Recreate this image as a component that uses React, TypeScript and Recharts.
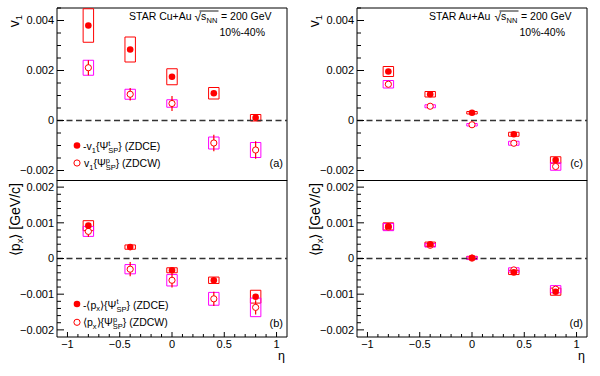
import React from 'react';
import { ScatterChart, Scatter, XAxis, YAxis, ReferenceLine, ReferenceArea, ErrorBar } from 'recharts';

// pseudorapidity bins
const ETA = [-0.8, -0.4, 0, 0.4, 0.8];

// Cu+Au v1 : -v1{Psi^t} (ZDCE) and v1{Psi^p} (ZDCW)
const V1_CUAU_E = [0.0038, 0.00284, 0.00175, 0.00109, 0.00011];
const V1_CUAU_E_STAT = [0.0001, 0.0001, 0.0001, 0.0001, 0.0001];
const V1_CUAU_E_SYS = [0.00067, 0.0005, 0.00032, 0.00023, 0.00013];
const V1_CUAU_W = [0.00211, 0.00105, 0.00068, -0.0009, -0.00118];
const V1_CUAU_W_STAT = [0.0003, 0.00025, 0.0003, 0.00033, 0.00035];
const V1_CUAU_W_SYS = [0.0003, 0.0002, 0.00015, 0.00024, 0.0003];

// Au+Au v1
const V1_AUAU_E = [0.00196, 0.00105, 0.00031, -0.00055, -0.00158];
const V1_AUAU_E_STAT = [0.00005, 0.00005, 0.00005, 0.00005, 0.00005];
const V1_AUAU_E_SYS = [0.0002, 0.00011, 0.00005, 0.00008, 0.00013];
const V1_AUAU_W = [0.00145, 0.00057, -0.00017, -0.00091, -0.00184];
const V1_AUAU_W_STAT = [0.00005, 0.00005, 0.00005, 0.00005, 0.00006];
const V1_AUAU_W_SYS = [0.00015, 0.00006, 0.00005, 0.00008, 0.00015];

// Cu+Au <px>
const PX_CUAU_E = [0.00092, 0.00032, -0.00033, -0.00061, -0.00107];
const PX_CUAU_E_STAT = [0.00005, 0.00004, 0.00004, 0.00005, 0.00006];
const PX_CUAU_E_SYS = [0.00014, 0.00006, 0.00007, 0.00009, 0.00018];
const PX_CUAU_W = [0.00076, -0.0003, -0.00061, -0.00113, -0.00137];
const PX_CUAU_W_STAT = [0.00015, 0.0002, 0.0002, 0.0002, 0.0002];
const PX_CUAU_W_SYS = [0.00014, 0.00013, 0.00016, 0.00018, 0.00026];

// Au+Au <px>
const PX_AUAU_E = [0.0009, 0.0004, 0.00002, -0.00039, -0.00093];
const PX_AUAU_E_STAT = [0.00003, 0.00003, 0.00003, 0.00003, 0.00004];
const PX_AUAU_E_SYS = [0.0001, 0.00006, 0.00004, 0.00006, 0.0001];
const PX_AUAU_W = [0.00088, 0.00037, 0.00001, -0.00032, -0.00086];
const PX_AUAU_W_STAT = [0.00003, 0.00003, 0.00003, 0.00003, 0.00004];
const PX_AUAU_W_SYS = [0.0001, 0.00005, 0.00004, 0.00006, 0.0001];

// axes
const X_DOMAIN = [-1.1, 1.1];
const X_TICKS = [-1, -0.9, -0.8, -0.7, -0.6, -0.5, -0.4, -0.3, -0.2, -0.1, 0, 0.1, 0.2, 0.3, 0.4, 0.5, 0.6, 0.7, 0.8, 0.9, 1];
const X_MAJOR = [-1, -0.5, 0, 0.5, 1];
const X_LABELS = ['\u22121', '\u22120.5', '0', '0.5', '1'];

const V1_DOMAIN = [-0.0024, 0.0045];
const V1_TICKS = [-0.002, -0.0015, -0.001, -0.0005, 0, 0.0005, 0.001, 0.0015, 0.002, 0.0025, 0.003, 0.0035, 0.004, 0.0045];
const V1_MAJOR = [-0.002, 0, 0.002, 0.004];
const V1_LABELS = ['\u22120.002', '0', '0.002', '0.004'];

const PX_DOMAIN = [-0.0022, 0.0022];
const PX_TICKS = [-0.002, -0.0018, -0.0016, -0.0014, -0.0012, -0.001, -0.0008, -0.0006, -0.0004, -0.0002, 0, 0.0002, 0.0004, 0.0006, 0.0008, 0.001, 0.0012, 0.0014, 0.0016, 0.0018, 0.002];
const PX_MAJOR = [-0.002, -0.001, 0, 0.001, 0.002];
const PX_LABELS = ['\u22120.002', '\u22120.001', '0', '0.001', '0.002'];

const BOX_HALF = 0.05;
const RED = '#ff0000';
const MAGENTA = '#ff00ff';
const FONT = '"Liberation Sans", Arial, Helvetica, sans-serif';

type Row = { x: number; y: number; err: number; sys: number };

const makeRows = (vals: number[], stat: number[], sys: number[]): Row[] =>
    ETA.map((x, i) => ({ x, y: vals[i], err: stat[i], sys: sys[i] }));

const majorIndex = (v: number, majors: number[]) => majors.findIndex(m => Math.abs(m - v) < 1e-9);

const makeYTick = (majors: number[], labels: string[]) => (props: any) => {
    const { x, y, payload } = props;
    const idx = majorIndex(payload.value, majors);
    const len = idx >= 0 ? 7 : 4;
    return (
        <g>
            <line x1={x} x2={x + len} y1={y} y2={y} stroke="#000" strokeWidth={1} />
            {idx >= 0 && (
                <text x={x - 3} y={y} dy="0.36em" textAnchor="end" fontSize={11} fontFamily={FONT} fill="#000">
                    {labels[idx]}
                </text>
            )}
        </g>
    );
};

const makeXTick = (showLabels: boolean) => (props: any) => {
    const { x, y, payload } = props;
    const idx = majorIndex(payload.value, X_MAJOR);
    const len = idx >= 0 ? 5 : 3;
    return (
        <g>
            <line x1={x} x2={x} y1={y} y2={y - len} stroke="#000" strokeWidth={1} />
            {showLabels && idx >= 0 && (
                <text x={x} y={y + 10.5} textAnchor="middle" fontSize={11} fontFamily={FONT} fill="#000">
                    {X_LABELS[idx]}
                </text>
            )}
        </g>
    );
};

const FilledDot = (p: any) => <circle cx={p.cx} cy={p.cy} r={3.3} fill={RED} />;
const OpenDot = (p: any) => <circle cx={p.cx} cy={p.cy} r={3.1} fill="#fff" stroke={RED} strokeWidth={1} />;

interface PanelProps {
    filled: Row[];
    open: Row[];
    yDomain: number[];
    yTicks: number[];
    yMajor: number[];
    yLabels: string[];
    height: number;
    margin: { top: number; right: number; bottom: number; left: number };
    xAxisHeight: number;
    showXLabels: boolean;
}

const Panel: React.FC<PanelProps> = ({ filled, open, yDomain, yTicks, yMajor, yLabels, height, margin, xAxisHeight, showXLabels }) => (
    <ScatterChart width={300} height={height} margin={margin}>
        <XAxis
            type="number"
            dataKey="x"
            domain={X_DOMAIN}
            ticks={X_TICKS}
            interval={0}
            allowDataOverflow
            height={xAxisHeight}
            tickSize={0}
            tickMargin={0}
            axisLine={false}
            tickLine={false}
            tick={makeXTick(showXLabels)}
        />
        <YAxis
            type="number"
            dataKey="y"
            domain={yDomain}
            ticks={yTicks}
            interval={0}
            allowDataOverflow
            width={57}
            tickSize={0}
            tickMargin={0}
            axisLine={false}
            tickLine={false}
            tick={makeYTick(yMajor, yLabels)}
        />
        <ReferenceArea x1={X_DOMAIN[0]} x2={X_DOMAIN[1]} y1={yDomain[0]} y2={yDomain[1]} fill="none" stroke="#000" strokeWidth={1} />
        <ReferenceLine y={0} stroke="#333" strokeWidth={1.4} strokeDasharray="6 3.5" />
        {filled.map((r, i) => (
            <ReferenceArea key={`fs-${i}`} x1={r.x - BOX_HALF} x2={r.x + BOX_HALF} y1={r.y - r.sys} y2={r.y + r.sys} fill="none" fillOpacity={0} stroke={RED} strokeWidth={1} />
        ))}
        {open.map((r, i) => (
            <ReferenceArea key={`os-${i}`} x1={r.x - BOX_HALF} x2={r.x + BOX_HALF} y1={r.y - r.sys} y2={r.y + r.sys} fill="none" fillOpacity={0} stroke={MAGENTA} strokeWidth={1} />
        ))}
        <Scatter data={open} shape={OpenDot} isAnimationActive={false}>
            <ErrorBar dataKey="err" direction="y" width={0} stroke={RED} strokeWidth={1.2} />
        </Scatter>
        <Scatter data={filled} shape={FilledDot} isAnimationActive={false}>
            <ErrorBar dataKey="err" direction="y" width={0} stroke={RED} strokeWidth={1.2} />
        </Scatter>
    </ScatterChart>
);

const SmallFont = { fontFamily: FONT, fill: '#000' };

const Header: React.FC<{ dx: number; system: string }> = ({ dx, system }) => (
    <g style={SmallFont}>
        <text x={dx + 129} y={20} fontSize={10.5}>{system}</text>
        <text x={dx + 194.5} y={21} fontSize={12}>{'\u221A'}</text>
        <line x1={dx + 199.5} x2={dx + 218.5} y1={11} y2={11} stroke="#000" strokeWidth={0.9} />
        <text x={dx + 201} y={20} fontSize={10.5}>s</text>
        <text x={dx + 206.5} y={22.5} fontSize={7.5}>NN</text>
        <text x={dx + 221} y={20} fontSize={10.5}>= 200 GeV</text>
        <text x={dx + 219.5} y={36} fontSize={10.5}>10%-40%</text>
    </g>
);

const App: React.FC = () => {
    const aFilled = makeRows(V1_CUAU_E, V1_CUAU_E_STAT, V1_CUAU_E_SYS);
    const aOpen = makeRows(V1_CUAU_W, V1_CUAU_W_STAT, V1_CUAU_W_SYS);
    const cFilled = makeRows(V1_AUAU_E, V1_AUAU_E_STAT, V1_AUAU_E_SYS);
    const cOpen = makeRows(V1_AUAU_W, V1_AUAU_W_STAT, V1_AUAU_W_SYS);
    const bFilled = makeRows(PX_CUAU_E, PX_CUAU_E_STAT, PX_CUAU_E_SYS);
    const bOpen = makeRows(PX_CUAU_W, PX_CUAU_W_STAT, PX_CUAU_W_SYS);
    const dFilled = makeRows(PX_AUAU_E, PX_AUAU_E_STAT, PX_AUAU_E_SYS);
    const dOpen = makeRows(PX_AUAU_W, PX_AUAU_W_STAT, PX_AUAU_W_SYS);

    const topMargin = { top: 8, right: 13, bottom: 1.5, left: 0 };
    const botMargin = { top: 0, right: 13, bottom: 9, left: 0 };

    const panels = [
        { left: 0, top: 0, filled: aFilled, open: aOpen, v1: true },
        { left: 300, top: 0, filled: cFilled, open: cOpen, v1: true },
        { left: 0, top: 180, filled: bFilled, open: bOpen, v1: false },
        { left: 300, top: 180, filled: dFilled, open: dOpen, v1: false },
    ];

    return (
        <div style={{ position: 'absolute', left: 0, top: 0, width: 600, height: 376, background: '#fff', overflow: 'hidden' }}>
            {panels.map((p, i) => (
                <div key={i} style={{ position: 'absolute', left: p.left, top: p.top }}>
                    {p.v1 ? (
                        <Panel filled={p.filled} open={p.open} yDomain={V1_DOMAIN} yTicks={V1_TICKS} yMajor={V1_MAJOR} yLabels={V1_LABELS}
                            height={182} margin={topMargin} xAxisHeight={0} showXLabels={false} />
                    ) : (
                        <Panel filled={p.filled} open={p.open} yDomain={PX_DOMAIN} yTicks={PX_TICKS} yMajor={PX_MAJOR} yLabels={PX_LABELS}
                            height={196} margin={botMargin} xAxisHeight={30} showXLabels={true} />
                    )}
                </div>
            ))}
            <svg width={600} height={376} style={{ position: 'absolute', left: 0, top: 0, pointerEvents: 'none' }}>
                {[0, 300].map(dx => (
                    <g key={dx} style={SmallFont}>
                        {/* y-axis titles */}
                        <text transform={`translate(${dx + 18.5},15) rotate(-90)`} textAnchor="end" fontSize={14}>
                            v<tspan fontSize={9.5} dy={3}>1</tspan>
                        </text>
                        <text transform={`translate(${dx + 19.5},183) rotate(-90)`} textAnchor="end" fontSize={14}>
                            {'\u27E8p'}<tspan fontSize={9.5} dy={3}>x</tspan><tspan dy={-3}>{'\u27E9 [GeV/c]'}</tspan>
                        </text>
                        {/* x-axis title */}
                        <text x={dx + 285} y={360} textAnchor="end" fontSize={12.5}>{'\u03B7'}</text>
                        {/* panel tags */}
                        <text x={dx + 283} y={166.5} textAnchor="end" fontSize={11}>{dx === 0 ? '(a)' : '(c)'}</text>
                        <text x={dx + 283} y={327} textAnchor="end" fontSize={11}>{dx === 0 ? '(b)' : '(d)'}</text>
                    </g>
                ))}
                <Header dx={0} system="STAR Cu+Au" />
                <Header dx={300} system="STAR Au+Au" />

                {/* legend (a) */}
                <g style={SmallFont}>
                    <circle cx={77} cy={145.5} r={3.3} fill={RED} />
                    <text x={83} y={150} fontSize={10.5}>
                        -v<tspan fontSize={7.5} dy={2.5}>1</tspan><tspan dy={-2.5}>{'{\u03A8'}</tspan>
                        <tspan fontSize={7.5} dy={-4.5}>t</tspan><tspan fontSize={7.5} dx={-2} dy={7.5}>SP</tspan>
                        <tspan dy={-3}>{'} (ZDCE)'}</tspan>
                    </text>
                    <circle cx={77} cy={163} r={3.1} fill="#fff" stroke={RED} strokeWidth={1} />
                    <text x={84} y={167} fontSize={10.5}>
                        v<tspan fontSize={7.5} dy={2.5}>1</tspan><tspan dy={-2.5}>{'{\u03A8'}</tspan>
                        <tspan fontSize={7.5} dy={-4.5}>p</tspan><tspan fontSize={7.5} dx={-4.2} dy={7.5}>SP</tspan>
                        <tspan dy={-3}>{'} (ZDCW)'}</tspan>
                    </text>
                </g>

                {/* legend (b) */}
                <g style={SmallFont}>
                    <circle cx={77} cy={304} r={3.3} fill={RED} />
                    <text x={83} y={308.5} fontSize={10.5}>
                        {'-\u27E8p'}<tspan fontSize={7.5} dy={2.5}>x</tspan><tspan dy={-2.5}>{'\u27E9{\u03A8'}</tspan>
                        <tspan fontSize={7.5} dy={-4.5}>t</tspan><tspan fontSize={7.5} dx={-2} dy={7.5}>SP</tspan>
                        <tspan dy={-3}>{'} (ZDCE)'}</tspan>
                    </text>
                    <circle cx={77} cy={322.3} r={3.1} fill="#fff" stroke={RED} strokeWidth={1} />
                    <text x={83} y={326} fontSize={10.5}>
                        {'\u27E8p'}<tspan fontSize={7.5} dy={2.5}>x</tspan><tspan dy={-2.5}>{'\u27E9{\u03A8'}</tspan>
                        <tspan fontSize={7.5} dy={-4.5}>p</tspan><tspan fontSize={7.5} dx={-4.2} dy={7.5}>SP</tspan>
                        <tspan dy={-3}>{'} (ZDCW)'}</tspan>
                    </text>
                </g>
            </svg>
        </div>
    );
};

export default App;
